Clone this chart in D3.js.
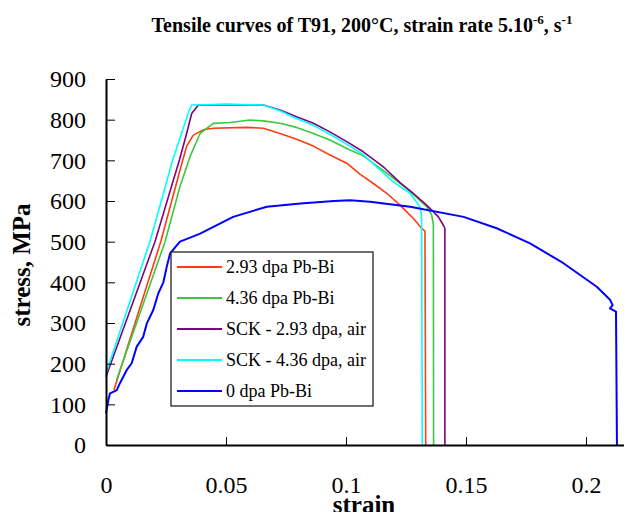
<!DOCTYPE html>
<html>
<head>
<meta charset="utf-8">
<script src="https://cdn.jsdelivr.net/npm/d3@7"></script>
<style>
  html, body { margin: 0; padding: 0; background: #fff; }
  svg { display: block; font-family: "Liberation Serif", "Times New Roman", serif; }
</style>
</head>
<body>
<svg id="chart" width="624" height="512"></svg>
<script>
// ---- data: [strain, stress MPa] ----
var pbBi293 = [
  [0.0033, 135], [0.0228, 500], [0.0308, 675], [0.0336, 735], [0.0364, 762], [0.0405, 775],
  [0.0447, 779], [0.0586, 781], [0.0656, 779], [0.0725, 766], [0.0794, 752], [0.0864, 735],
  [0.0933, 713], [0.1003, 693], [0.1058, 666], [0.1114, 643], [0.117, 619], [0.1225, 590],
  [0.1281, 557], [0.1315, 533], [0.1329, 526], [0.1332, 0]
];
var pbBi436 = [
  [0.0044, 160], [0.0246, 500], [0.0308, 635], [0.035, 709], [0.0392, 766], [0.0447, 791],
  [0.0517, 793], [0.06, 799], [0.0656, 797], [0.0725, 791], [0.0794, 781], [0.0864, 766],
  [0.0933, 750], [0.1003, 729], [0.1072, 711], [0.1149, 678], [0.1253, 631], [0.1336, 586],
  [0.1357, 566], [0.1364, 541], [0.1365, 0]
];
var sck293 = [
  [0, 168], [0.0204, 500], [0.0308, 705], [0.0336, 766], [0.0357, 815], [0.0385, 836],
  [0.05, 837], [0.0656, 836], [0.0725, 824], [0.0794, 807], [0.0864, 791], [0.0933, 770],
  [0.1003, 746], [0.1072, 721], [0.1142, 690], [0.1163, 680], [0.1225, 645], [0.128, 619],
  [0.1336, 590], [0.1385, 561], [0.1405, 541], [0.1412, 533], [0.1412, 0]
];
var sck436 = [
  [0, 176], [0.0183, 500], [0.0278, 701], [0.0345, 820], [0.0357, 836], [0.05, 838],
  [0.0656, 836], [0.0725, 822], [0.0794, 803], [0.0864, 786], [0.0933, 764], [0.1003, 740],
  [0.1072, 714], [0.1135, 680], [0.1197, 647], [0.1267, 619], [0.1308, 586], [0.1315, 565],
  [0.1318, 0]
];
var pbBi0 = [
  [0, 78], [0.001, 111], [0.0017, 127], [0.0045, 135], [0.0058, 152], [0.0072, 168],
  [0.0086, 184], [0.0107, 201], [0.0128, 242], [0.0155, 266], [0.017, 299], [0.0197, 332],
  [0.0218, 373], [0.0239, 400], [0.0253, 438], [0.0267, 471], [0.0308, 500], [0.039, 519],
  [0.053, 561], [0.067, 586], [0.081, 594], [0.095, 600], [0.1017, 602], [0.11, 598],
  [0.1267, 586], [0.149, 561], [0.1628, 533], [0.1767, 496], [0.1906, 447], [0.2045, 389],
  [0.21, 357], [0.2111, 344], [0.21, 336], [0.2125, 328], [0.2129, 0]
];

var SERIES = [pbBi293, pbBi436, sck293, sck436, pbBi0];
var LABELS = ['2.93 dpa Pb-Bi', '4.36 dpa Pb-Bi', 'SCK - 2.93 dpa, air', 'SCK - 4.36 dpa, air', '0 dpa Pb-Bi'];
var COLORS = ['#ff3c14', '#3cc83c', '#800080', '#00ffff', '#0000ff'];
var XTICKS = [0, 0.05, 0.1, 0.15, 0.2];
var YTICKS = [0, 100, 200, 300, 400, 500, 600, 700, 800, 900];

var svg = d3.select('#chart');

var x = d3.scaleLinear().domain([0, 0.22]).range([106, 634]);
var y = d3.scaleLinear().domain([0, 900]).range([445, 79]);

// title
var title = svg.append('text')
  .attr('x', 362).attr('y', 32)
  .attr('text-anchor', 'middle')
  .attr('font-size', 20).attr('font-weight', 'bold');
title.append('tspan').text('Tensile curves of T91, 200\u00B0C, strain rate 5.10');
title.append('tspan').attr('font-size', 13).attr('dy', -8).text('-6');
title.append('tspan').attr('dy', 8).text(', s');
title.append('tspan').attr('font-size', 13).attr('dy', -8).text('-1');

// curves
var line = d3.line()
  .x(function(d) { return x(d[0]); })
  .y(function(d) { return y(d[1]); });

SERIES.forEach(function(s, i) {
  svg.append('path')
    .datum(s)
    .attr('d', line)
    .attr('fill', 'none')
    .attr('stroke', COLORS[i])
    .attr('stroke-width', i === 4 ? 2 : 1.6)
    .attr('stroke-linejoin', 'round');
});

// axes
svg.append('g')
  .attr('transform', 'translate(0,' + y(0) + ')')
  .call(d3.axisBottom(x).tickValues(XTICKS)
    .tickFormat(function(d) { return String(d); })
    .tickSizeInner(-8).tickSizeOuter(0).tickPadding(31))
  .call(function(g) {
    g.select('.domain').attr('stroke', '#000').attr('stroke-width', 2);
    g.selectAll('line').attr('stroke', '#000').attr('stroke-width', 1);
    g.selectAll('text').attr('fill', '#000').attr('font-size', 24)
      .attr('font-family', '"Liberation Serif", "Times New Roman", serif');
  });

svg.append('g')
  .attr('transform', 'translate(' + x(0) + ',0)')
  .call(d3.axisLeft(y).tickValues(YTICKS)
    .tickSizeInner(-9).tickSizeOuter(0).tickPadding(20))
  .call(function(g) {
    g.select('.domain').attr('stroke', '#000').attr('stroke-width', 2);
    g.selectAll('line').attr('stroke', '#000').attr('stroke-width', 1);
    g.selectAll('text').attr('fill', '#000').attr('font-size', 24)
      .attr('font-family', '"Liberation Serif", "Times New Roman", serif');
  });

// axis titles
svg.append('text')
  .attr('transform', 'translate(30,265) rotate(-90)')
  .attr('text-anchor', 'middle')
  .attr('font-size', 25).attr('font-weight', 'bold')
  .text('stress, MPa');

svg.append('text')
  .attr('x', 364).attr('y', 513)
  .attr('text-anchor', 'middle')
  .attr('font-size', 25).attr('font-weight', 'bold')
  .text('strain');

// legend
var legend = svg.append('g');
legend.append('rect')
  .attr('x', 171).attr('y', 252).attr('width', 202).attr('height', 154)
  .attr('fill', '#fff').attr('stroke', '#222').attr('stroke-width', 1.3);

LABELS.forEach(function(lab, i) {
  var ly = 267 + i * 31;
  legend.append('line')
    .attr('x1', 177).attr('x2', 222).attr('y1', ly).attr('y2', ly)
    .attr('stroke', COLORS[i]).attr('stroke-width', 2);
  legend.append('text')
    .attr('x', 226).attr('y', ly).attr('dy', '0.35em')
    .attr('font-size', 18)
    .text(lab);
});
</script>
</body>
</html>
